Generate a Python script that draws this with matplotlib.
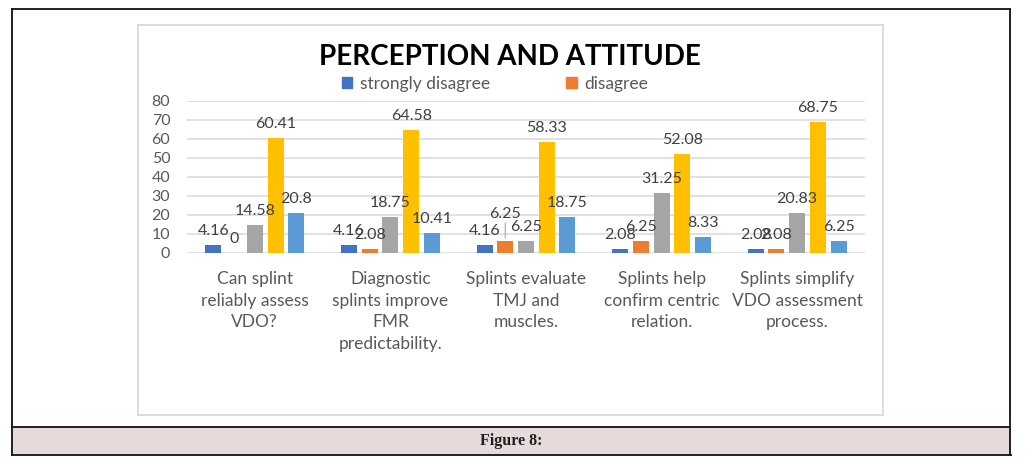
import numpy as np
import matplotlib
matplotlib.use("Agg")
import matplotlib.pyplot as plt
from matplotlib.lines import Line2D
from matplotlib.patches import Rectangle, Patch

matplotlib.rc("font", **{"family": "Lato", "size": 11})

categories = ["Can splint\nreliably assess\nVDO?",
              "Diagnostic\nsplints improve\nFMR\npredictability.",
              "Splints evaluate\nTMJ and\nmuscles.",
              "Splints help\nconfirm centric\nrelation.",
              "Splints simplify\nVDO assessment\nprocess."]
series = ["strongly disagree", "disagree", "neutral", "agree", "strongly agree"]
strongly_disagree = [4.16, 4.16, 4.16, 2.08, 2.08]
disagree = [0, 2.08, 6.25, 6.25, 2.08]
neutral = [14.58, 18.75, 6.25, 31.25, 20.83]
agree = [60.41, 64.58, 58.33, 52.08, 68.75]
strongly_agree = [20.8, 10.41, 18.75, 8.33, 6.25]
yticks = [0, 10, 20, 30, 40, 50, 60, 70, 80]

values = [strongly_disagree, disagree, neutral, agree, strongly_agree]
colors = ["#4472C4", "#ED7D31", "#A5A5A5", "#FFC000", "#5B9BD5"]
# label moved up by hand in the original (group, series): extra points
nudges = {(2, 1): 9}

W, H = 1033, 467
fig = plt.figure(figsize=(W / 100, H / 100), dpi=100)


def fx(px):
    return px / W


def fy(py):
    return 1 - py / H


# page frame and caption band
fig.add_artist(Rectangle((fx(12), fy(455)), fx(1010) - fx(12), fy(427) - fy(455),
                         facecolor="#E6DADA", edgecolor="none", zorder=-2))
for xs, ys in [([12, 1010], [9, 9]), ([12, 12], [9, 455]), ([1010, 1010], [9, 455]),
               ([12, 1010], [427, 427]), ([12, 1011], [455, 455])]:
    fig.add_artist(Line2D([fx(x) for x in xs], [fy(y) for y in ys],
                          color="#231F20", lw=1.4, zorder=-1))
fig.text(fx(511), fy(441), "Figure 8:", ha="center", va="center",
         family="Liberation Serif", weight="bold", size=11.5, color="#231F20")

# chart area box
fig.add_artist(Rectangle((fx(138), fy(415)), fx(883) - fx(138), fy(25) - fy(415),
                         facecolor="white", edgecolor="#D9D9D9", lw=1.3, zorder=-1))

ax = fig.add_axes([fx(187), fy(252.7), fx(865) - fx(187), fy(100.7) - fy(252.7)])
ax.set_facecolor("none")

x = np.arange(len(categories))
step, width = 0.153, 0.118
for i, (vals, col) in enumerate(zip(values, colors)):
    pos = x + (i - 2) * step
    ax.bar(pos, vals, width, color=col, zorder=3)
    for g, (p, v) in enumerate(zip(pos, vals)):
        extra = nudges.get((g, i), 0)
        ax.annotate("{:g}".format(v), (p, v), xytext=(0, 5 + extra),
                    textcoords="offset points", ha="center", va="bottom",
                    color="#404040", size=11.5, zorder=4, annotation_clip=False)
        if extra:
            ax.annotate("", (p, v), xytext=(0, extra + 6),
                        textcoords="offset points",
                        arrowprops=dict(arrowstyle="-", color="#A6A6A6", lw=0.8))

ax.set_xlim(-0.5, len(categories) - 0.5)
ax.set_ylim(0, 80)
ax.set_yticks(yticks)
ax.yaxis.grid(True, color="#D9D9D9", lw=1.1, zorder=0)
ax.set_xticks(x)
ax.set_xticklabels(categories, linespacing=1.45)
ax.tick_params(axis="x", length=0, pad=13, labelsize=12.5, colors="#595959")
ax.tick_params(axis="y", length=0, pad=12, labelsize=11.5, colors="#595959")
for s in ax.spines.values():
    s.set_visible(False)

fig.text(fx(510), fy(57), "PERCEPTION AND ATTITUDE", ha="center", va="center",
         weight="bold", size=20, color="black")

handles = [Patch(color=c) for c in colors[:2]]
fig.legend(handles, series[:2], loc="center left", bbox_to_anchor=(fx(326), fy(84)),
           ncol=2, frameon=False, handlelength=0.6, handleheight=0.6,
           handletextpad=0.45, columnspacing=4.4, fontsize=12.5,
           labelcolor="#595959")

fig.savefig("out.png", dpi=100)
